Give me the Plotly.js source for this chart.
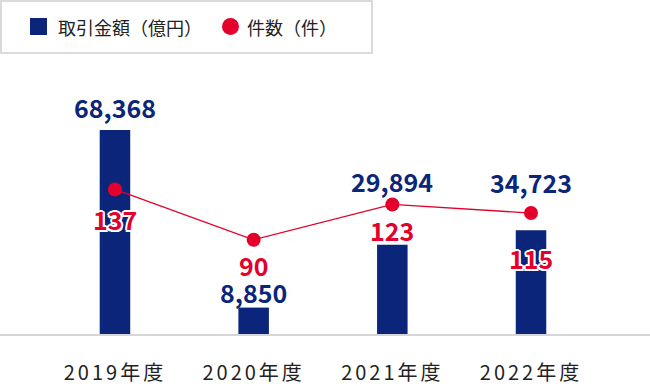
<!DOCTYPE html>
<html><head><meta charset="utf-8">
<script src="https://cdn.plot.ly/plotly-3.0.1.min.js"></script>
<style>
html,body{margin:0;padding:0;background:#fff;}
#chart{width:650px;height:386px;}
.xtick text{letter-spacing:3px;}
</style></head><body><div id="chart"></div>
<script>
// ---- data ----
const categories = ['2019年度', '2020年度', '2021年度', '2022年度'];
const amountName = '取引金額（億円）';
const countName = '件数（件）';
const amounts = [68368, 8850, 29894, 34723];
const counts = [137, 90, 123, 115];

// ---- style / layout helpers ----
const W = 650, H = 386, baseY = 334;
const plotH = baseY;               // plot area from y=0 to baseline
const navy = '#0a2579', red = '#e4002b';
const fam = '"Noto Sans CJK JP", "Noto Sans", sans-serif';
const amountLabelShift = [23, 16, 64, 48];
const countLabelShift = [-30, -25, -26, -45];
const px = x => x / W;
const py = y => (baseY - y) / plotH;

const fmt = v => v.toLocaleString('en-US');

const traces = [
  {
    type: 'bar', x: categories, y: amounts, name: amountName,
    width: 0.22, marker: {color: navy, line: {width: 0}},
    hoverinfo: 'skip', showlegend: false
  },
  {
    type: 'scatter', mode: 'lines+markers', x: categories, y: counts, name: countName,
    yaxis: 'y2', line: {color: red, width: 1.3},
    marker: {color: red, size: 14}, hoverinfo: 'skip', showlegend: false
  }
];

const annotations = [];
categories.forEach((c, i) => {
  annotations.push({
    x: c, y: amounts[i], xref: 'x', yref: 'y', yanchor: 'middle', yshift: amountLabelShift[i],
    text: fmt(amounts[i]), showarrow: false, borderpad: 0,
    font: {family: fam, size: 25, weight: 'bold', color: navy}
  });
});
categories.forEach((c, i) => {
  annotations.push({
    x: c, y: counts[i], xref: 'x', yref: 'y2', yanchor: 'middle', yshift: countLabelShift[i],
    text: String(counts[i]), showarrow: false, borderpad: 0,
    font: {family: fam, size: 25, weight: 'bold', color: red,
      shadow: '-1.5px -1.5px 0 #fff, 1.5px -1.5px 0 #fff, -1.5px 1.5px 0 #fff, 1.5px 1.5px 0 #fff, 0 2px 0 #fff, 0 -2px 0 #fff, 2px 0 0 #fff, -2px 0 0 #fff'}
  });
});
// legend texts
annotations.push({
  xref: 'paper', yref: 'paper', x: px(56), y: py(27), xanchor: 'left', yanchor: 'middle',
  text: amountName, showarrow: false, font: {family: fam, size: 18, color: '#222'}
});
annotations.push({
  xref: 'paper', yref: 'paper', x: px(245), y: py(27), xanchor: 'left', yanchor: 'middle',
  text: countName, showarrow: false, font: {family: fam, size: 18, color: '#222'}
});

const shapes = [
  {type: 'rect', xref: 'paper', yref: 'paper', x0: px(1), x1: px(372), y0: py(1), y1: py(53),
   line: {color: '#dadada', width: 2}, fillcolor: '#fff', layer: 'below'},
  {type: 'rect', xref: 'paper', yref: 'paper', x0: px(30), x1: px(47), y0: py(18), y1: py(35),
   line: {width: 0}, fillcolor: navy},
  {type: 'circle', xref: 'paper', yref: 'paper', x0: px(222), x1: px(239), y0: py(18), y1: py(35),
   line: {width: 0}, fillcolor: red}
];

const layout = {
  width: W, height: H,
  margin: {l: 0, r: 0, t: 0, b: H - baseY, pad: 0},
  paper_bgcolor: '#fff', plot_bgcolor: '#fff',
  showlegend: false,
  xaxis: {
    type: 'category', range: [-0.829, 3.858], showgrid: false, zeroline: false,
    showline: true, linecolor: '#d6d6d6', linewidth: 2, ticks: '',
    ticklabelstandoff: 20,
    tickfont: {family: fam, size: 20, color: '#222'}, fixedrange: true
  },
  yaxis: {range: [0, 111900], visible: false, showgrid: false, zeroline: false, fixedrange: true},
  yaxis2: {range: [2, 314], overlaying: 'y', visible: false, showgrid: false, zeroline: false, fixedrange: true},
  annotations: annotations,
  shapes: shapes
};

Plotly.newPlot('chart', traces, layout, {staticPlot: true, displayModeBar: false});
</script></body></html>
